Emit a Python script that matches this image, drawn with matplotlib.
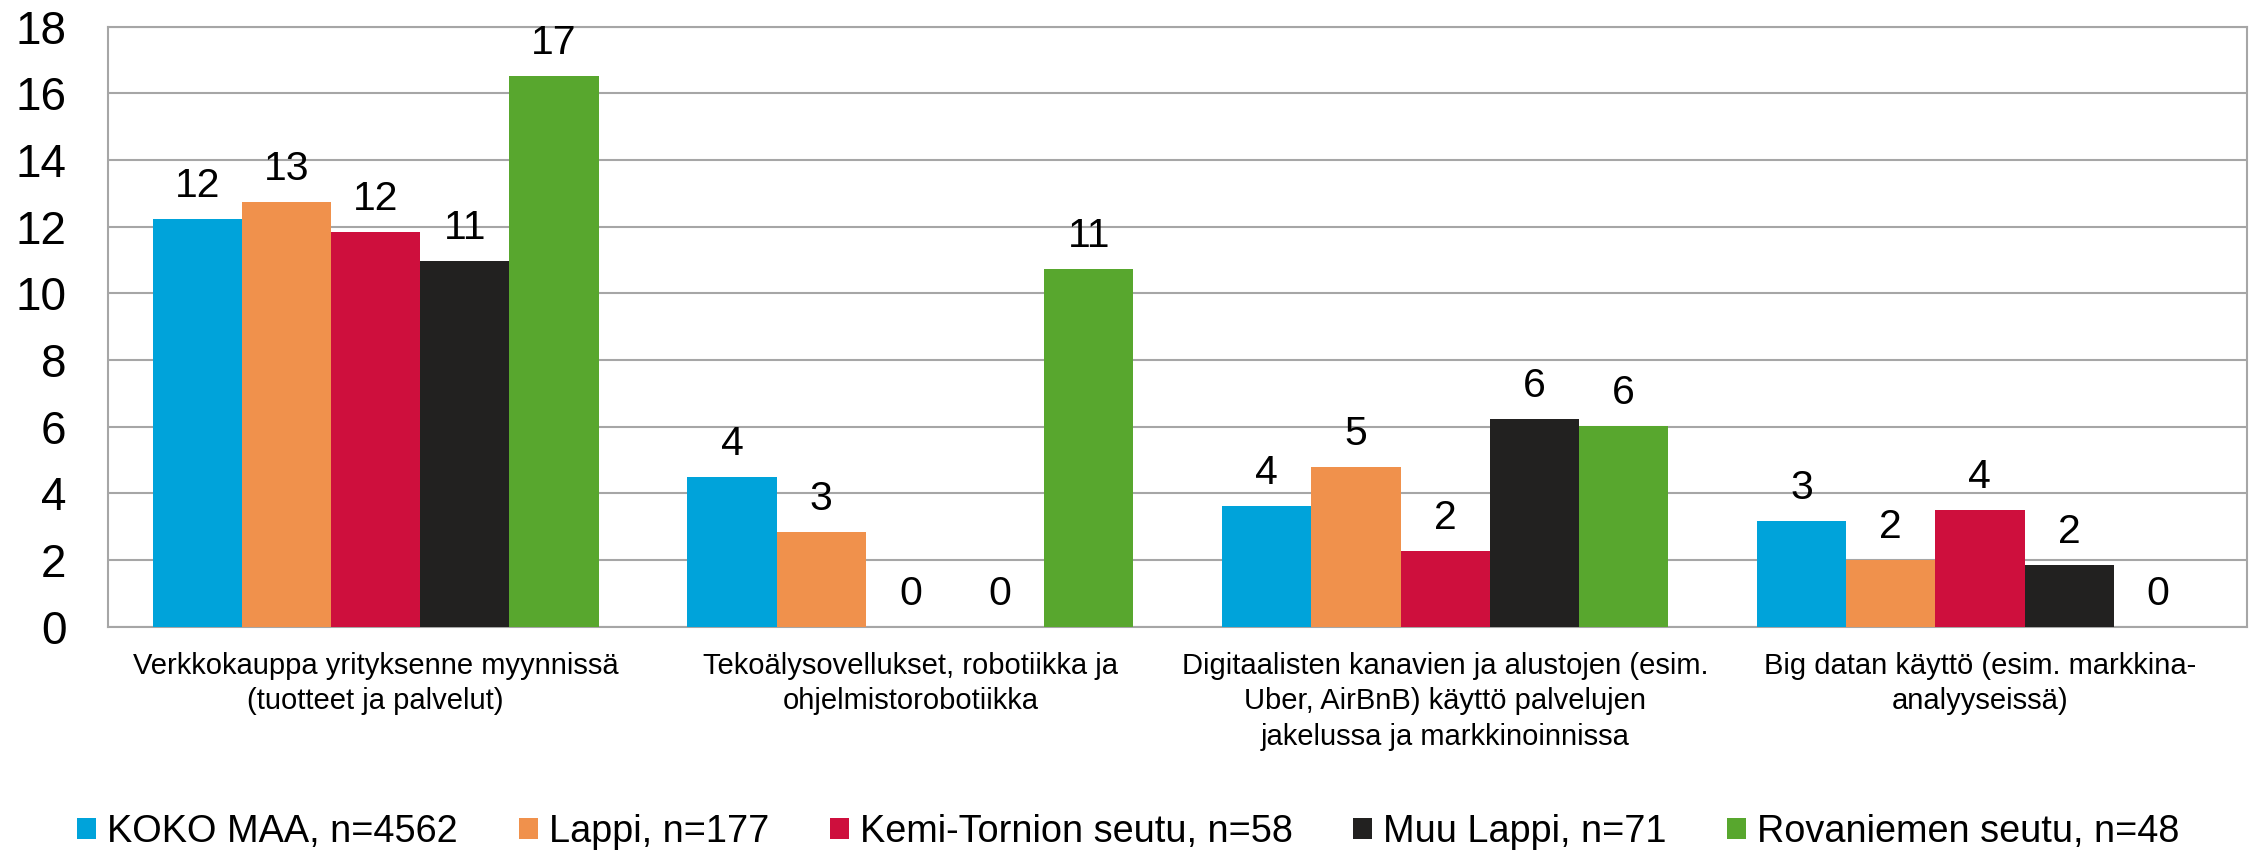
import numpy as np
import matplotlib
matplotlib.use("Agg")
import matplotlib.pyplot as plt

plt.rcParams['font.family'] = ['Liberation Sans', 'DejaVu Sans']

categories = [
    "Verkkokauppa yrityksenne myynnissä\n(tuotteet ja palvelut)",
    "Tekoälysovellukset, robotiikka ja\nohjelmistorobotiikka",
    "Digitaalisten kanavien ja alustojen (esim.\nUber, AirBnB) käyttö palvelujen\njakelussa ja markkinoinnissa",
    "Big datan käyttö (esim. markkina-\nanalyyseissä)",
]
series_names = [
    "KOKO MAA, n=4562",
    "Lappi, n=177",
    "Kemi-Tornion seutu, n=58",
    "Muu Lappi, n=71",
    "Rovaniemen seutu, n=48",
]
koko_maa = [12.24, 4.48, 3.62, 3.18]
lappi = [12.73, 2.84, 4.78, 2.00]
kemi_tornio = [11.85, 0.0, 2.28, 3.50]
muu_lappi = [10.98, 0.0, 6.22, 1.86]
rovaniemi = [16.51, 10.72, 6.01, 0.0]

koko_maa_labels = ["12", "4", "4", "3"]
lappi_labels = ["13", "3", "5", "2"]
kemi_tornio_labels = ["12", "0", "2", "4"]
muu_lappi_labels = ["11", "0", "6", "2"]
rovaniemi_labels = ["17", "11", "6", "0"]

colors = ["#00A3DA", "#F0914C", "#CE0F3D", "#222120", "#58A72E"]
values = [koko_maa, lappi, kemi_tornio, muu_lappi, rovaniemi]
labels = [koko_maa_labels, lappi_labels, kemi_tornio_labels,
          muu_lappi_labels, rovaniemi_labels]

fig = plt.figure(figsize=(22.57, 8.51), dpi=100)
ax = fig.add_axes([0.04798, 0.26357, 0.99570 - 0.04798, 0.96863 - 0.26357])

x = np.arange(len(categories))
w = 0.1668
for i, (vals, name, c, lab) in enumerate(zip(values, series_names, colors, labels)):
    bars = ax.bar(x + (i - 2) * w, vals, w, color=c, label=name, zorder=3)
    ax.bar_label(bars, labels=lab, padding=10, fontsize=29.5)

ax.set_xlim(-0.5, 3.5)
ax.set_ylim(0, 18)
ax.set_yticks(range(0, 19, 2))
ax.set_xticks(x)
ax.set_xticklabels(categories, fontsize=21, linespacing=1.35)
ax.tick_params(axis='y', length=0, pad=30, labelsize=33)
ax.tick_params(axis='x', length=0, pad=18)
ax.grid(axis='y', color='#A6A6A6', linewidth=1.5, zorder=0)
for s in ax.spines.values():
    s.set_color('#A6A6A6')
    s.set_linewidth(1.5)

fig.legend(loc='center', bbox_to_anchor=(0.5, 1 - 832 / 851), ncol=5,
           frameon=False, fontsize=27.3, handlelength=0.5, handleheight=0.5,
           handletextpad=0.29, columnspacing=1.6)

fig.savefig("out.png", dpi=100)
